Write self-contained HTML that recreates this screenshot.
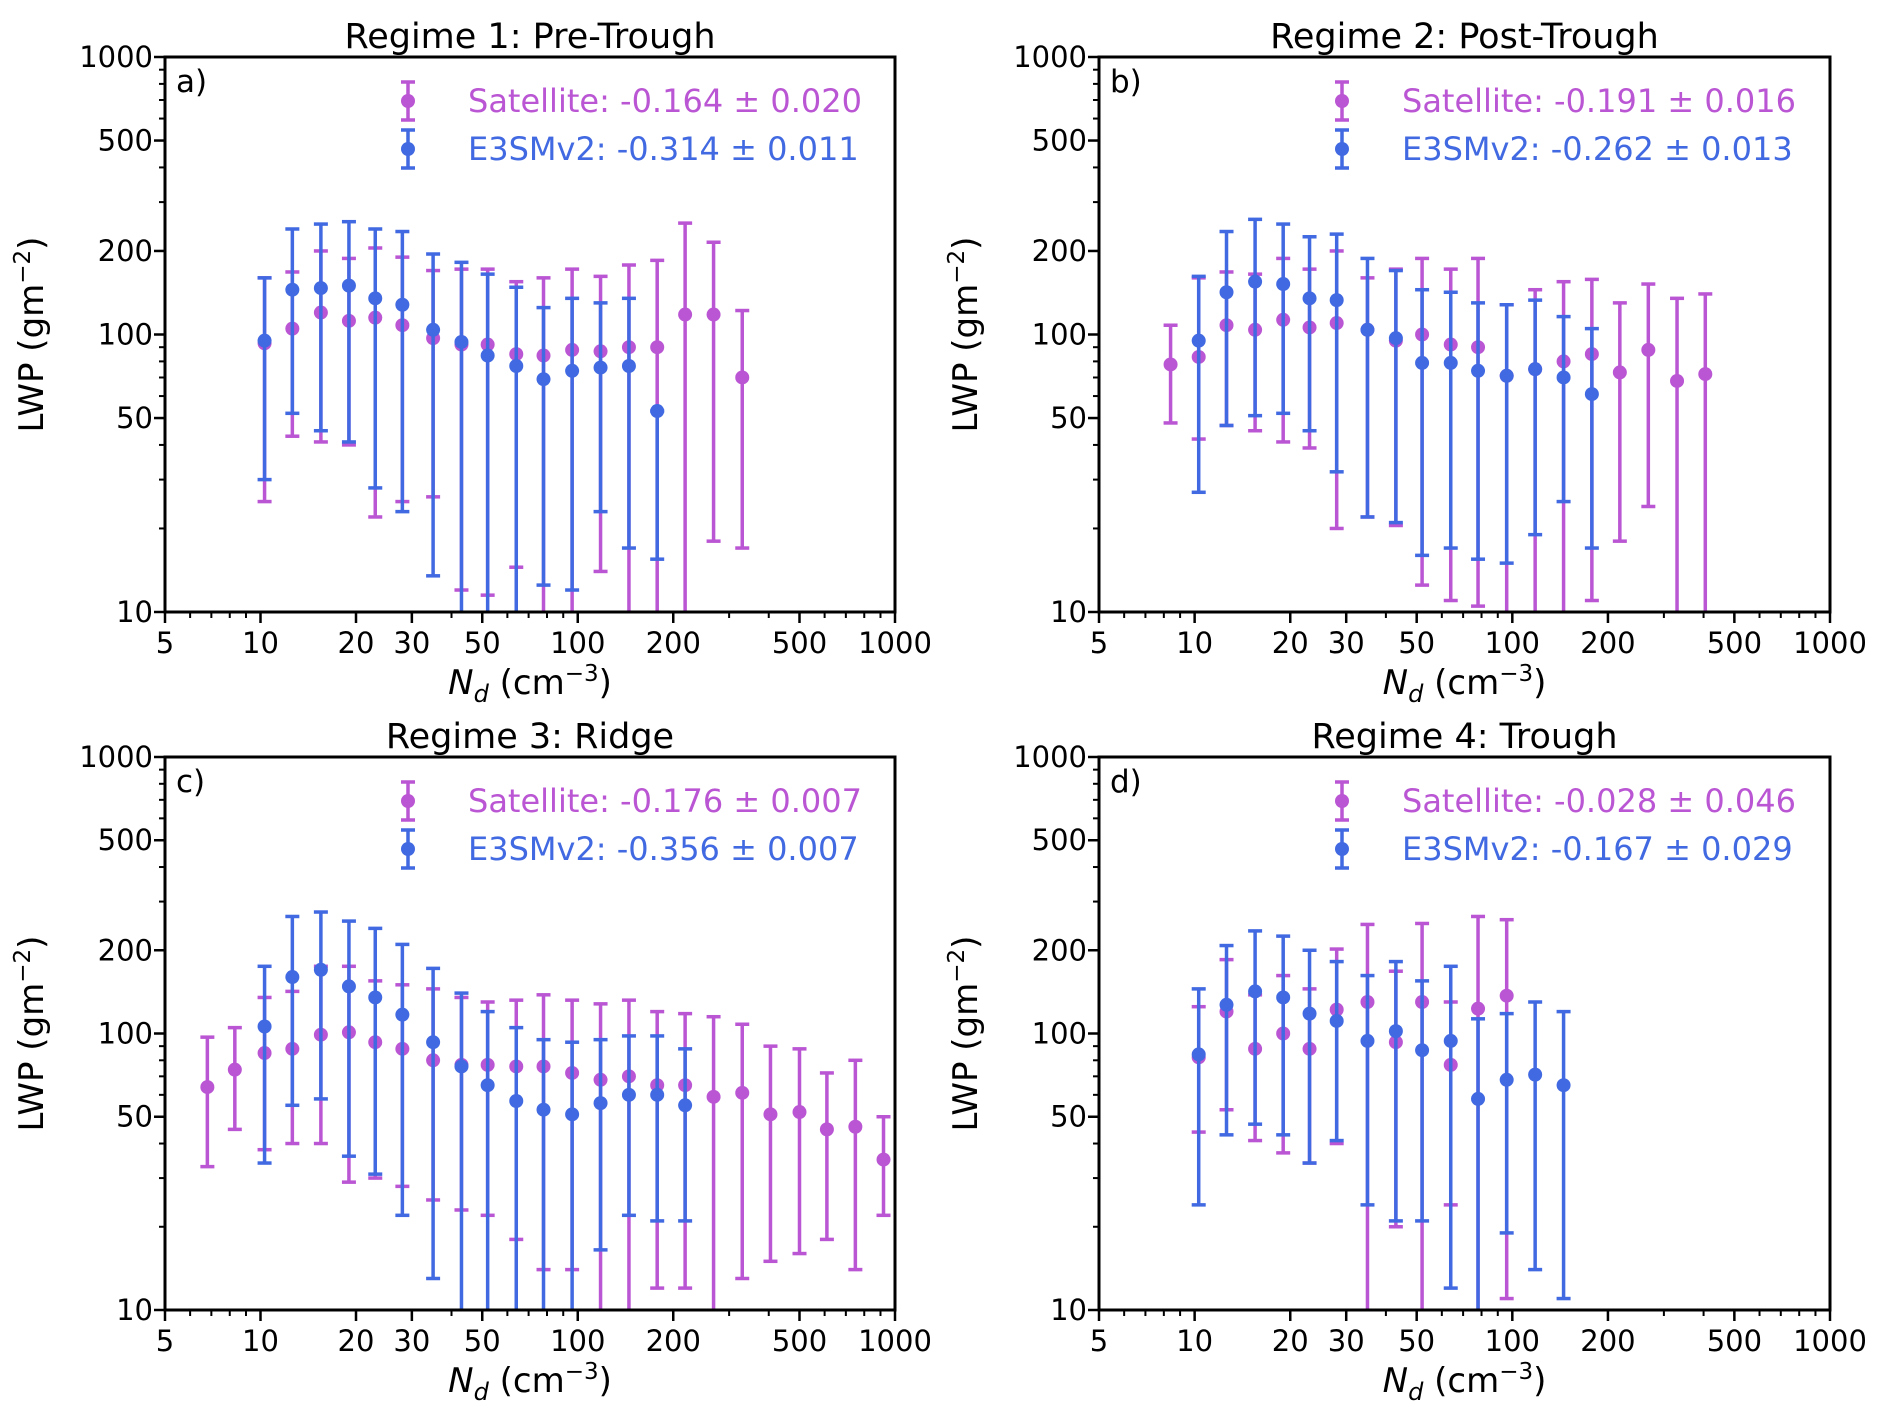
<!DOCTYPE html>
<html><head><meta charset="utf-8"><style>
body{margin:0;background:#fff;}
svg{display:block;font-family:"DejaVu Sans","Liberation Sans",sans-serif;}
</style></head><body>
<svg id="fig" width="1892" height="1422" viewBox="0 0 1892 1422" xmlns="http://www.w3.org/2000/svg"></svg>
<script>
const binsA = [10.3,12.6,15.5,19,23,28,35,43,52,64,78,96,118,145,178,218,268,330];
const satA = [93,105,120,112,115,108,97,92,92,85,84,88,87,90,90,118,118,70];
const satAHi = [160,168,200,188,205,190,170,172,172,155,160,172,162,178,185,252,215,122];
const satALo = [25,43,41,40,22,25,26,12,11.5,14.5,5,5,14,5,5,5,18,17];
const binsAE = [10.3,12.6,15.5,19,23,28,35,43,52,64,78,96,118,145,178];
const e3A = [95,145,147,150,135,128,104,94,84,77,69,74,76,77,53];
const e3AHi = [160,240,250,255,240,235,195,182,165,148,125,135,130,135,53];
const e3ALo = [30,52,45,41,28,23,13.5,5,5,5,12.5,12,23,17,15.5];

const binsB = [8.4,10.3,12.6,15.5,19,23,28,35,43,52,64,78,96,118,145,178,218,268,330,405];
const satB = [78,83,108,104,113,106,110,104,95,100,92,90,71,75,80,85,73,88,68,72];
const satBHi = [108,160,168,165,188,172,200,160,172,188,172,188,128,145,155,158,130,152,135,140];
const satBLo = [48,42,47,45,41,39,20,22,20.5,12.5,11,10.5,5,5,5,11,18,24,5,5];
const binsBE = [10.3,12.6,15.5,19,23,28,35,43,52,64,78,96,118,145,178];
const e3B = [95,142,155,152,135,133,104,97,79,79,74,71,75,70,61];
const e3BHi = [162,235,260,250,225,230,188,170,145,142,130,128,133,116,105];
const e3BLo = [27,47,51,52,45,32,22,21,16,17,15.5,15,19,25,17];

const binsC = [6.8,8.3,10.3,12.6,15.5,19,23,28,35,43,52,64,78,96,118,145,178,218,268,330,405,500,610,750,920];
const satC = [64,74,85,88,99,101,93,88,80,77,77,76,76,72,68,70,65,65,59,61,51,52,45,46,35];
const satCHi = [97,105,135,142,175,175,155,150,145,135,130,132,138,132,128,132,120,118,115,108,90,88,72,80,50];
const satCLo = [33,45,38,40,40,29,30,28,25,23,22,18,14,14,5,5,12,12,5,13,15,16,18,14,22];
const binsCE = [10.3,12.6,15.5,19,23,28,35,43,52,64,78,96,118,145,178,218];
const e3C = [106,160,170,148,135,117,93,76,65,57,53,51,56,60,60,55];
const e3CHi = [175,265,275,255,240,210,172,140,120,105,95,93,95,98,98,88];
const e3CLo = [34,55,58,36,31,22,13,5,5,5,5,5,16.5,22,21,21];

const binsD = [10.3,12.6,15.5,19,23,28,35,43,52,64,78,96];
const satD = [82,120,88,100,88,122,130,93,130,77,123,137];
const satDHi = [125,185,138,162,145,202,248,168,250,130,265,258];
const satDLo = [44,53,41,37,34,40,5,20,5,24,5,11];
const binsDE = [10.3,12.6,15.5,19,23,28,35,43,52,64,78,96,118,145];
const e3D = [84,127,142,135,118,111,94,102,87,94,58,68,71,65];
const e3DHi = [145,208,235,225,200,182,162,182,155,175,113,118,130,120];
const e3DLo = [24,43,47,43,34,41,24,21,21,12,5,19,14,11];

const xTicks = [5,10,20,30,50,100,200,500,1000];
const yTicks = [10,50,100,200,500,1000];
const titles = ["Regime 1: Pre-Trough","Regime 2: Post-Trough","Regime 3: Ridge","Regime 4: Trough"];
const letters = ["a)","b)","c)","d)"];
const satLabels = ["Satellite: -0.164 ± 0.020","Satellite: -0.191 ± 0.016","Satellite: -0.176 ± 0.007","Satellite: -0.028 ± 0.046"];
const e3Labels = ["E3SMv2: -0.314 ± 0.011","E3SMv2: -0.262 ± 0.013","E3SMv2: -0.356 ± 0.007","E3SMv2: -0.167 ± 0.029"];

const SAT="#BA55D3", E3="#4169E1";
const NS="http://www.w3.org/2000/svg";
const svg=document.getElementById('fig');
function el(tag,attrs,parent,text){const e=document.createElementNS(NS,tag);for(const k in attrs)e.setAttribute(k,attrs[k]);if(text!==undefined)e.textContent=text;(parent||svg).appendChild(e);return e;}

const panels=[
 {x0:165,x1:895,y0:57,y1:612,sb:binsA,eb:binsAE,s:[satA,satAHi,satALo],e:[e3A,e3AHi,e3ALo]},
 {x0:1099,x1:1830,y0:57,y1:612,sb:binsB,eb:binsBE,s:[satB,satBHi,satBLo],e:[e3B,e3BHi,e3BLo]},
 {x0:165,x1:895,y0:757,y1:1310,sb:binsC,eb:binsCE,s:[satC,satCHi,satCLo],e:[e3C,e3CHi,e3CLo]},
 {x0:1099,x1:1830,y0:757,y1:1310,sb:binsD,eb:binsDE,s:[satD,satDHi,satDLo],e:[e3D,e3DHi,e3DLo]}
];

panels.forEach((p,i)=>{
  const g=el('g',{});
  
  
  const xs=v=>p.x0+(Math.log10(v)-Math.log10(5))/Math.log10(200)*(p.x1-p.x0);
  const ys=v=>p.y1-(Math.log10(v)-1)/2*(p.y1-p.y0);
  const cl=v=>Math.max(p.y0,Math.min(p.y1,ys(v)));
  for(let d=1;d<=100;d*=10)for(let m=2;m<=9;m++){const xv=d*m;
    if(xv>=5&&xv<=1000){const x=xs(xv);el('line',{x1:x,x2:x,y1:p.y1,y2:p.y1+6,stroke:'#000','stroke-width':2},g);}
    const yv=d*10*m; if(yv<1000){const y=ys(yv);el('line',{x1:p.x0,x2:p.x0-6,y1:y,y2:y,stroke:'#000','stroke-width':2},g);}
  }
  xTicks.forEach(t=>{const x=xs(t);el('line',{x1:x,x2:x,y1:p.y1,y2:p.y1+11,stroke:'#000','stroke-width':2.5},g);
    const lt=el('text',{x:x,y:p.y1+41,'text-anchor':'middle','font-size':29},g,String(t));
    });
  yTicks.forEach(t=>{const y=ys(t);el('line',{x1:p.x0,x2:p.x0-11,y1:y,y2:y,stroke:'#000','stroke-width':2.5},g);
    const lt=el('text',{x:p.x0-12,y:y+10,'text-anchor':'end','font-size':29},g,String(t));
    });
  const drawSeries=(arr,bins,col,name)=>{
    const sg=el('g',{},g);
    
    
    arr[0].forEach((v,k)=>{
      const x=xs(bins[k]),yh=cl(arr[1][k]),yl=cl(arr[2][k]);
      el('line',{x1:x,x2:x,y1:yh,y2:yl,stroke:col,'stroke-width':3.5},sg);
      if(arr[1][k]<=1000&&arr[1][k]>=10)el('line',{x1:x-7,x2:x+7,y1:yh,y2:yh,stroke:col,'stroke-width':3.5},sg);
      if(arr[2][k]>=10)el('line',{x1:x-7,x2:x+7,y1:yl,y2:yl,stroke:col,'stroke-width':3.5},sg);
      const c=el('circle',{cx:x,cy:ys(v),r:7,fill:col},sg);
      
      
    });
  };
  drawSeries(p.s,p.sb,SAT,'satellite-series');
  drawSeries(p.e,p.eb,E3,'e3smv2-series');
  el('rect',{x:p.x0,y:p.y0,width:p.x1-p.x0,height:p.y1-p.y0,fill:'none',stroke:'#000','stroke-width':3},g);
  const t=el('text',{x:(p.x0+p.x1)/2,y:p.y0-9,'text-anchor':'middle','font-size':35},g,titles[i]);
  
  const lt=el('text',{x:p.x0+11,y:p.y0+35,'font-size':31},g,letters[i]);
  
  const lx=p.x0+243;
  [[SAT,satLabels[i],101],[E3,e3Labels[i],149]].forEach(([c,txt,dy],j)=>{
    const y=p.y0+dy-57;
    const lg=el('g',{},g);
    
    
    el('line',{x1:lx,x2:lx,y1:y-19,y2:y+19,stroke:c,'stroke-width':3.5},lg);
    el('line',{x1:lx-7,x2:lx+7,y1:y-19,y2:y-19,stroke:c,'stroke-width':3.5},lg);
    el('line',{x1:lx-7,x2:lx+7,y1:y+19,y2:y+19,stroke:c,'stroke-width':3.5},lg);
    el('circle',{cx:lx,cy:y,r:7,fill:c},lg);
    el('text',{x:lx+60,y:y+11,'font-size':32,fill:c},lg,txt);
  });
  const xl=el('text',{x:(p.x0+p.x1)/2,y:p.y1+82,'text-anchor':'middle','font-size':34},g);
  
  el('tspan',{'font-style':'italic'},xl,'N');
  el('tspan',{'font-style':'italic','font-size':24,dy:8},xl,'d');
  el('tspan',{dy:-8},xl,' (cm');
  el('tspan',{'font-size':23,dy:-13},xl,'−3');
  el('tspan',{dy:13},xl,')');
  const cy=(p.y0+p.y1)/2, cx=p.x0-122;
  const yl=el('text',{x:cx,y:cy,'text-anchor':'middle','font-size':34,transform:`rotate(-90 ${cx} ${cy})`},g);
  
  el('tspan',{},yl,'LWP (gm');
  el('tspan',{'font-size':23,dy:-13},yl,'−2');
  el('tspan',{dy:13},yl,')');
});
</script>
</body></html>
